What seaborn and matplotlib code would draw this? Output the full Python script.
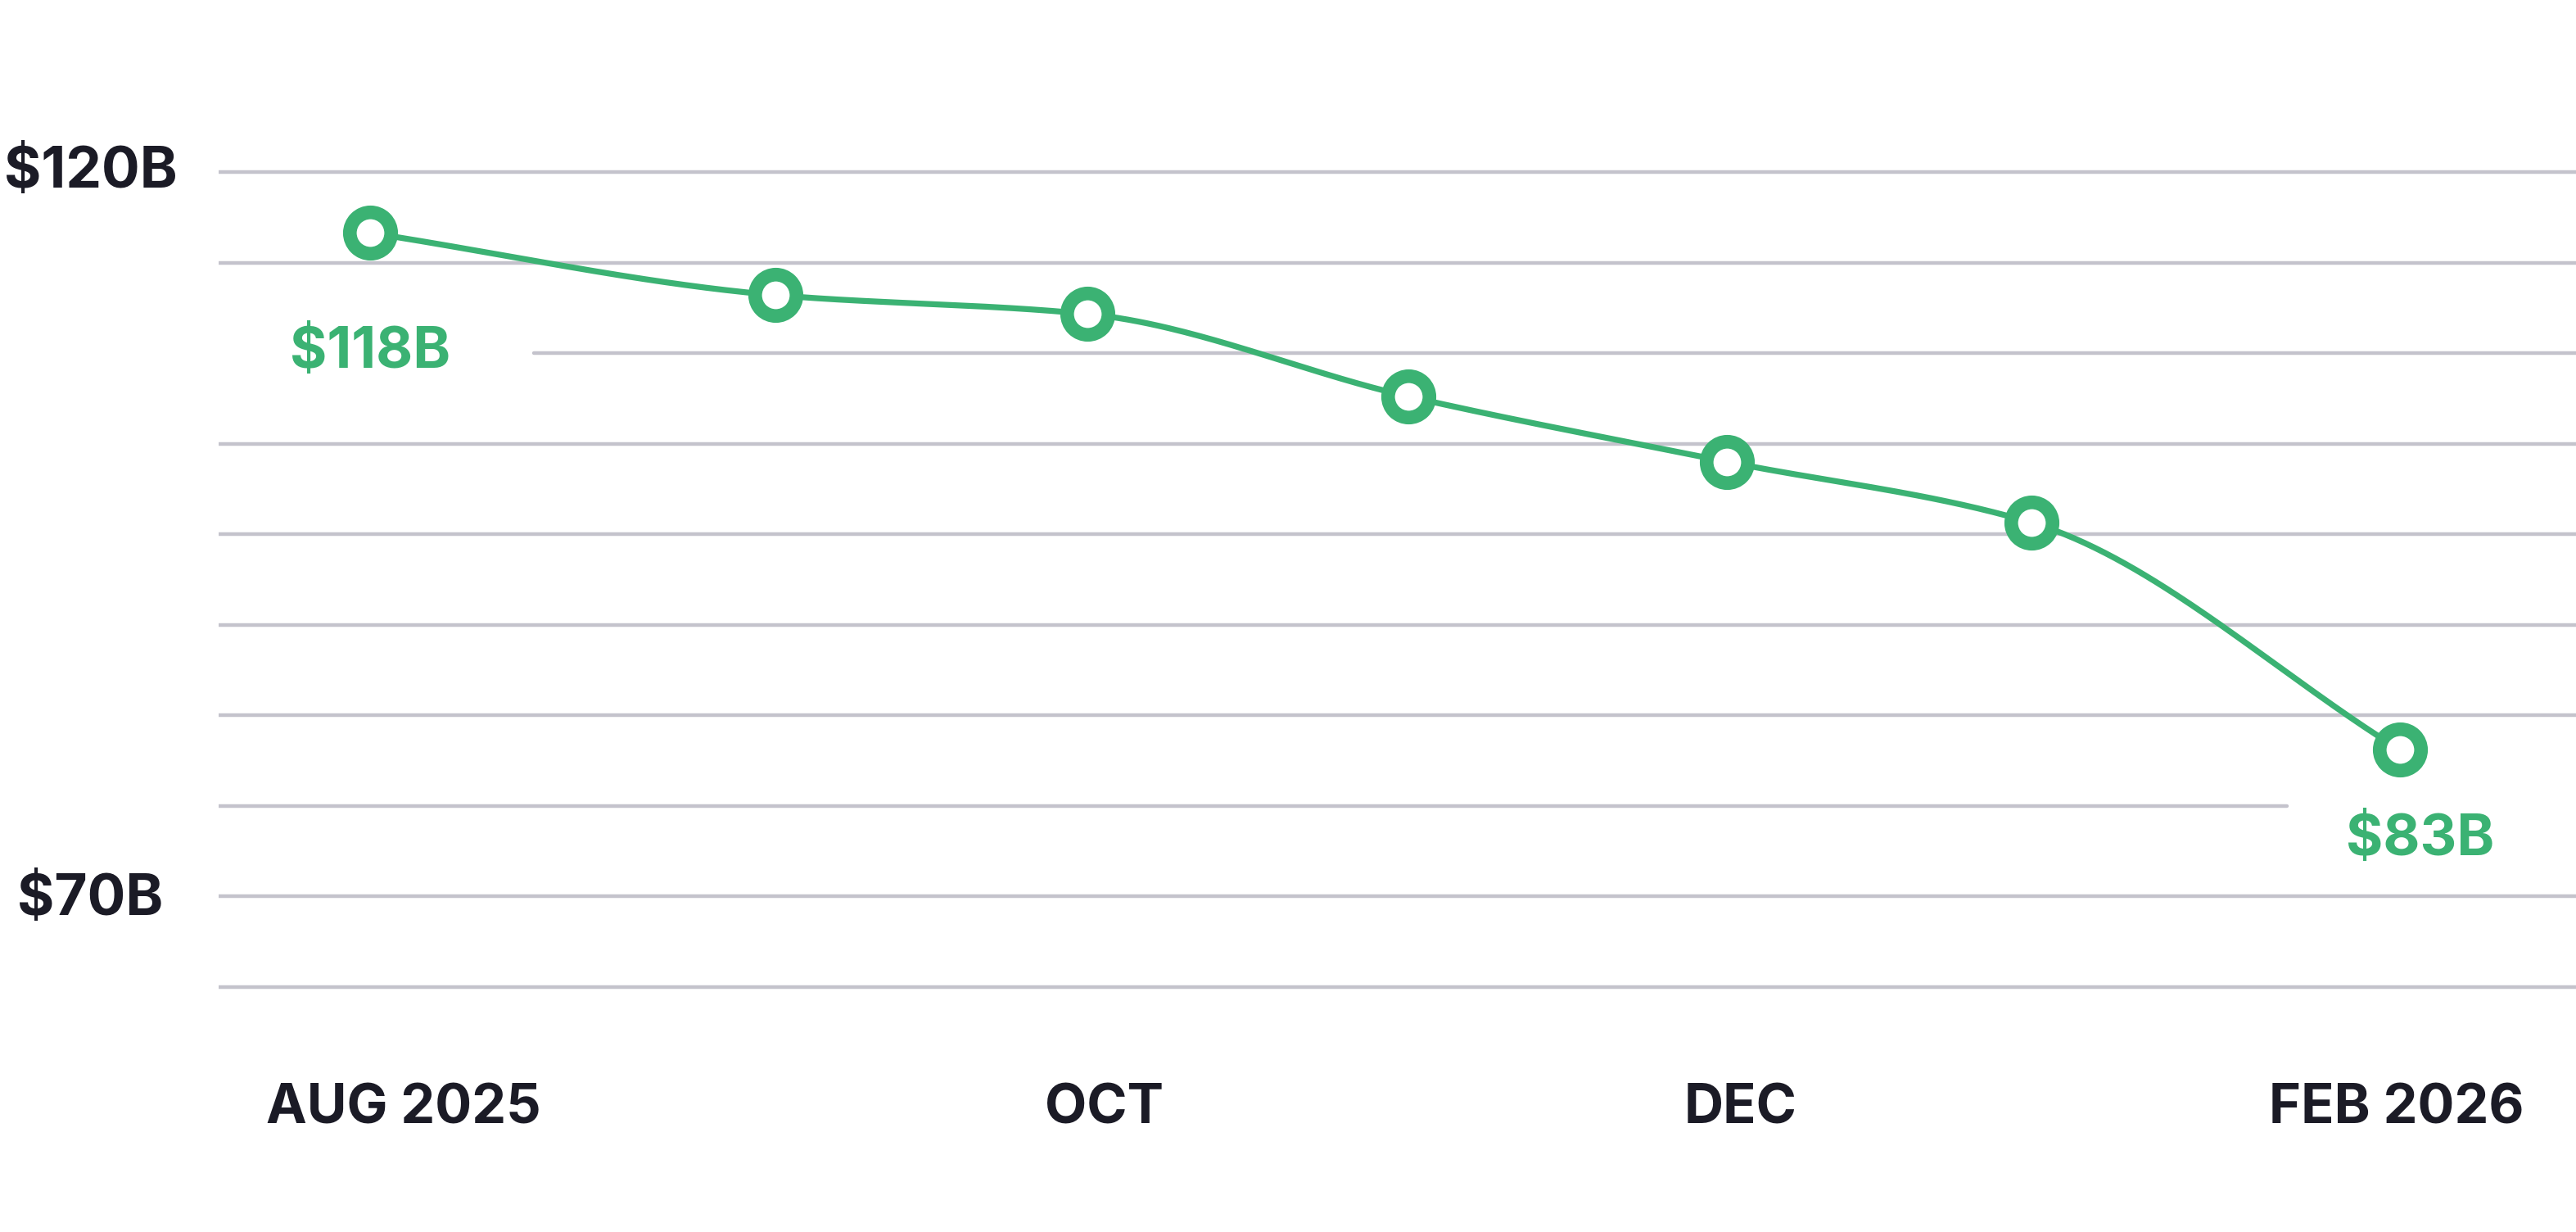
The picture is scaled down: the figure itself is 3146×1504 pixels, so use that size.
import numpy as np
import pandas as pd
import matplotlib.pyplot as plt
import seaborn as sns

# data (x in months from Aug 2025)
month_pos = [0, 1.2, 2.12, 3.07, 4.01, 4.91, 6.0]
value_b = [115.8, 111.5, 110.2, 104.5, 100.0, 95.8, 80.1]
tick_pos = [0.1, 2.17, 4.05, 5.99]
tick_labels = ["AUG 2025", "OCT", "DEC", "FEB 2026"]
grid_vals = [120 - 6.25 * i for i in range(10)]

GREEN = "#3bb273"
DARK = "#1b1b26"
GRID = "#c4c3cc"

sns.set_theme(style="white")
plt.rcParams['font.family'] = ['Inter', 'DejaVu Sans']

df = pd.DataFrame({"x": month_pos, "y": value_b})

# smooth curve through the points (monotone cubic, drawing only)
def pchip(x, y, n=400):
    x = np.asarray(x, float); y = np.asarray(y, float)
    h = np.diff(x); d = np.diff(y) / h
    m = np.zeros_like(y)
    for k in range(1, len(y) - 1):
        if d[k - 1] * d[k] > 0:
            w1 = 2 * h[k] + h[k - 1]; w2 = h[k] + 2 * h[k - 1]
            m[k] = (w1 + w2) / (w1 / d[k - 1] + w2 / d[k])
    m[0] = d[0]; m[-1] = d[-1]
    xs = np.linspace(x[0], x[-1], n)
    idx = np.clip(np.searchsorted(x, xs) - 1, 0, len(h) - 1)
    t = (xs - x[idx]) / h[idx]
    h00 = 2*t**3 - 3*t**2 + 1; h10 = t**3 - 2*t**2 + t
    h01 = -2*t**3 + 3*t**2; h11 = t**3 - t**2
    ys = h00*y[idx] + h10*h[idx]*m[idx] + h01*y[idx+1] + h11*h[idx]*m[idx+1]
    return xs, ys

xs, ys = pchip(month_pos, value_b)
curve = pd.DataFrame({"x": xs, "y": ys})

fig = plt.figure(figsize=(15.73, 7.52), dpi=200)
ax = fig.add_axes([133 / 1568, 0, 1 - 133 / 1568, 1])
ax.set_xlim(-0.447, 6.52)
ax.set_ylim(46.81, 131.88)
ax.axis("off")

for i, g in enumerate(grid_vals):
    xmin, xmax = 0, 1
    if i == 2:
        xmin = (325 - 133) / (1568 - 133)
    if i == 7:
        xmax = (1392 - 133) / (1568 - 133)
    ax.axhline(g, xmin=xmin, xmax=xmax, color=GRID, lw=1.6, zorder=1)

sns.lineplot(data=curve, x="x", y="y", ax=ax, color=GREEN, lw=2.6, zorder=3, sort=False)
sns.scatterplot(data=df, x="x", y="y", ax=ax, s=330, color="white",
                edgecolor=GREEN, linewidth=6.0, zorder=4)

for p, lab in zip(tick_pos, tick_labels):
    ax.text(p, 55.3, lab, ha="center", va="center", fontsize=24, fontweight="bold", color=DARK)

fig.text(55 / 1568, 1 - 105 / 752, "$120B", ha="center", va="center", fontsize=25, fontweight="bold", color=DARK)
fig.text(55 / 1568, 1 - 549 / 752, "$70B", ha="center", va="center", fontsize=25, fontweight="bold", color=DARK)

ax.text(0.0, 107.55, "$118B", ha="center", va="center", fontsize=25, fontweight="bold", color=GREEN)
ax.text(6.06, 73.85, "$83B", ha="center", va="center", fontsize=25, fontweight="bold", color=GREEN)

fig.savefig("out.png", dpi=200)
